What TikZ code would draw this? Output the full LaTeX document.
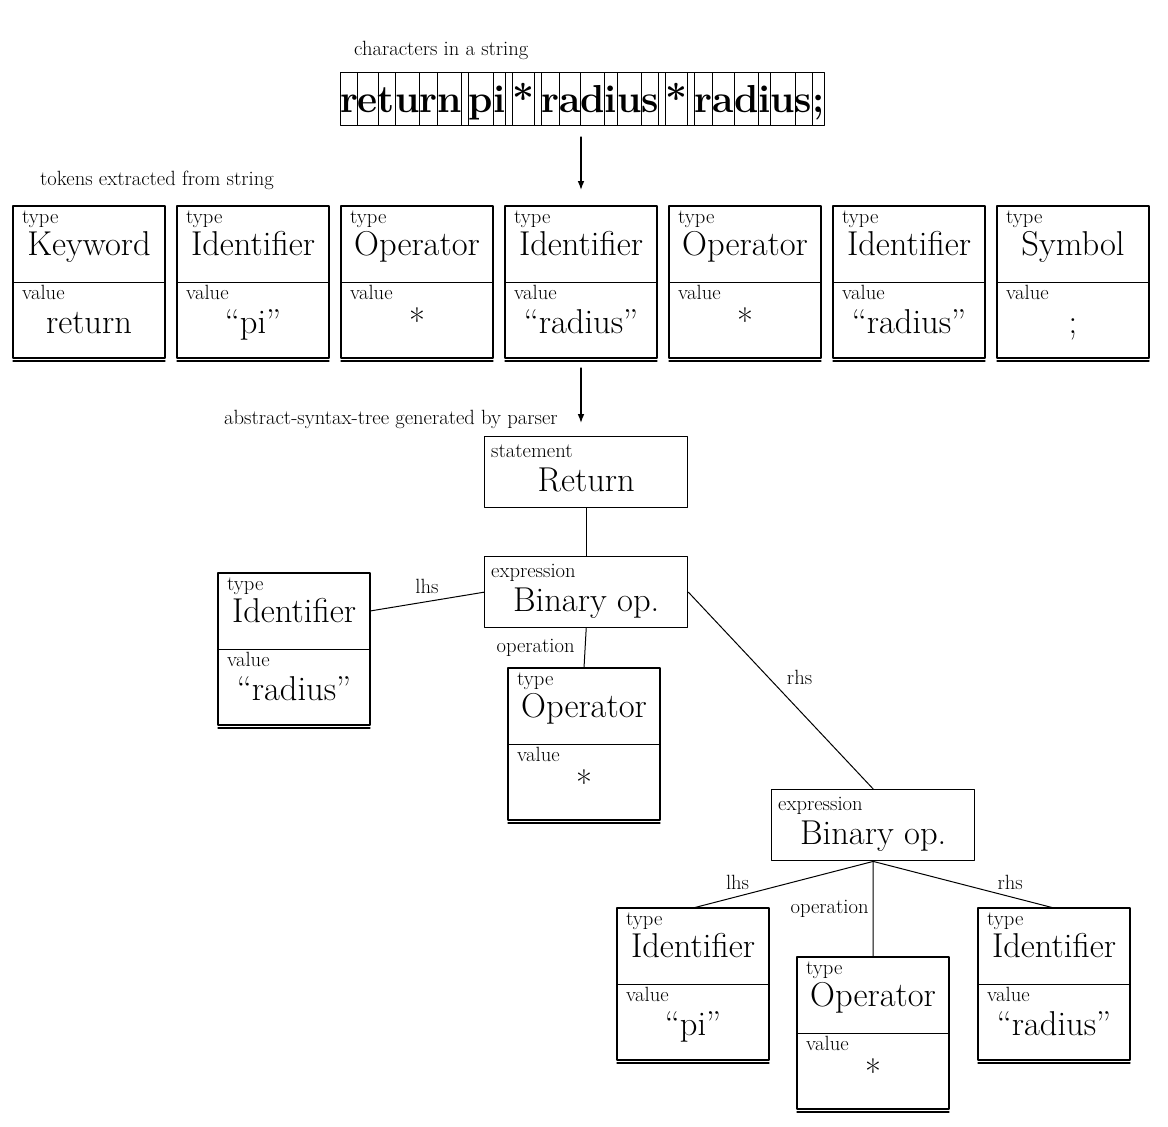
\documentclass[tikz,border=0pt]{standalone}
\usetikzlibrary{arrows.meta,positioning}

\begin{document}
\begin{tikzpicture}[>=Latex, x=1pt, y=-1pt, line cap=round, line join=round,
	small/.style={font=\fontsize{20.6}{24}\selectfont, inner sep=0pt},
	big/.style={font=\fontsize{34.5}{40}\selectfont, inner sep=0pt},
	half/.style={minimum width=152pt, minimum height=76pt, inner sep=0pt, outer sep=0pt},
	stmt/.style={draw, line width=1.4pt, minimum width=203pt, minimum height=71pt, inner sep=0pt},
	cell/.style={draw, line width=0.9pt, inner sep=0pt, outer sep=0pt, text height=40pt, text depth=13pt,
		font=\fontsize{39}{42}\selectfont\bfseries},
	link/.style={line width=1pt}]
	
	\useasboundingbox (0,0) rectangle (1168,1127);
	
	% two-part box: type on top, value below
	\def\tokbox#1#2#3#4{%
		\node[half, anchor=north west] (#1-t) at (#2) {};
		\node[half, anchor=north] (#1-v) at (#1-t.south) {};
		\draw[line width=1.4pt] (#1-t.north west) rectangle (#1-v.south east);
		\draw[line width=0.8pt] (#1-t.south west) -- (#1-t.south east);
		\draw[line width=1.3pt] ([yshift=-3pt]#1-v.south west) -- ([yshift=-3pt]#1-v.south east);
		\node[small, anchor=base west] (#1-tl) at ([xshift=9pt,yshift=-17.5pt]#1-t.north west) {type};
		\node[big, anchor=base] (#1-tn) at ([yshift=-49pt]#1-t.north) {#3};
		\node[small, anchor=base west] (#1-vl) at ([xshift=9pt,yshift=-93pt]#1-t.north west) {value};
		\node[big, anchor=base] (#1-vn) at ([yshift=-127pt]#1-t.north) {#4};
	}
	% one-part box of the tree
	\def\stmtbox#1#2#3#4{%
		\node[stmt, anchor=north west] (#1) at (#2) {};
		\node[small, anchor=base west] (#1-l) at ([xshift=7pt,yshift=-21pt]#1.north west) {#3};
		\node[big, anchor=base] (#1-n) at ([yshift=-55pt]#1.north) {#4};
	}
	\def\gap{\rule{7pt}{0pt}}
	
	% characters in a string
	\node[small, anchor=base west] (strlbl) at (354,55) {characters in a string};
	\coordinate (c0) at (340,98.5);
	\foreach \ch [count=\i, remember=\i as \j (initially 0)] in
		{r,e,t,u,r,n,\gap,p,i,\gap,*,\gap,r,a,d,i,u,s,\gap,*,\gap,r,a,d,i,u,s,;}
		\node[cell, right=0pt of c\j] (c\i) {\ch};
	
	% tokens
	\node[small, anchor=base west] (toklbl) at (40,185) {tokens extracted from string};
	\tokbox{tok1}{13,206}{Keyword}{return}
	\tokbox{tok2}{177,206}{Identifier}{``pi''}
	\tokbox{tok3}{341,206}{Operator}{*}
	\tokbox{tok4}{505,206}{Identifier}{``radius''}
	\tokbox{tok5}{669,206}{Operator}{*}
	\tokbox{tok6}{833,206}{Identifier}{``radius''}
	\tokbox{tok7}{997,206}{Symbol}{;}
	
	\draw[->, line width=1.3pt] ([yshift=-12pt]tok4-t.north |- c1.south) -- ([yshift=16pt]tok4-t.north);
	
	% abstract syntax tree
	\node[small, anchor=base west] (astlbl) at (224,424) {abstract-syntax-tree generated by parser};
	\stmtbox{ret}{484,436}{statement}{Return}
	\stmtbox{bin1}{484,556}{expression}{Binary op.}
	\stmtbox{bin2}{771,789}{expression}{Binary op.}
	\tokbox{idr}{218,573}{Identifier}{``radius''}
	\tokbox{op1}{508,668}{Operator}{*}
	\tokbox{idp}{617,908}{Identifier}{``pi''}
	\tokbox{op2}{797,957}{Operator}{*}
	\tokbox{idq}{978,908}{Identifier}{``radius''}
	
	\draw[->, line width=1.3pt] ([yshift=-10pt]tok4-v.south) -- ([yshift=13pt]tok4-v.south |- ret.north);
	
	\draw[link] (ret) -- (bin1);
	\draw[link] (bin1.west) -- node[small, above=7pt] (lhs1) {lhs} (idr-t.east);
	\draw[link] (bin1.south) -- node[small, left=10pt] (opl1) {operation} (op1-t.north);
	\draw[link] (bin1.east) -- node[small, above right=8pt] (rhs1) {rhs} (bin2.north);
	\draw[link] (bin2.south) -- node[small, pos=0.67, above left=4pt] (lhs2) {lhs} (idp-t.north);
	\draw[link] (bin2.south) -- node[small, left=4pt] (opl2) {operation} (op2-t.north);
	\draw[link] (bin2.south) -- node[small, pos=0.67, above right=4pt] (rhs2) {rhs} (idq-t.north);
	
\end{tikzpicture}
\end{document}
